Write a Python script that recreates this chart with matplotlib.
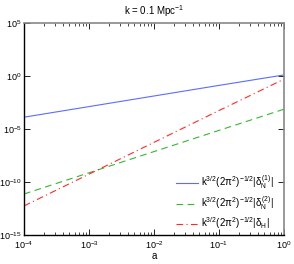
import numpy as np
import matplotlib
matplotlib.use('Agg')
import matplotlib.pyplot as plt
from matplotlib.ticker import LogLocator, NullFormatter, NullLocator

plt.rcParams['font.family'] = ['Liberation Sans', 'DejaVu Sans']
plt.rcParams['mathtext.fontset'] = 'custom'
plt.rcParams['mathtext.rm'] = 'Liberation Sans'
plt.rcParams['mathtext.it'] = 'Liberation Sans'

# scale factor and amplitudes
a = [1e-4, 1e-3, 1e-2, 1e-1, 1.0]
delta_n1 = [1.3e-4, 1.3e-3, 1.3e-2, 1.3e-1, 1.26]
delta_n2 = [7.4e-12, 7.4e-10, 7.4e-8, 7.4e-6, 7.4e-4]
delta_h = [5.5e-13, 5.5e-10, 5.5e-7, 5.5e-4, 0.5]

pre = r'k$^{3/2}$(2$\pi^2$)$^{-1/2}$'
labels = [pre + r'|$\delta_N^{(1)}$|', pre + r'|$\delta_N^{(2)}$|', pre + r'|$\delta_H$|']

fig = plt.figure(figsize=(2.94, 2.64), dpi=100)
ax = fig.add_axes([24/294, 29/264, 260/294, 212/264])

ax.plot(a, delta_n1, color='#5b6cff', lw=0.8, label=labels[0])
ax.plot(a, delta_n2, color='#33b833', lw=0.8, ls=(0, (6, 4)), label=labels[1])
ax.plot(a, delta_h, color='#ff2a2a', lw=0.8, ls=(0, (6, 3, 1, 3)), label=labels[2])

ax.set_xscale('log')
ax.set_yscale('log')
ax.set_xlim(1e-4, 1)
ax.set_ylim(1e-15, 1e5)
ax.set_yticks([1e-15, 1e-10, 1e-5, 1e0, 1e5])
ax.yaxis.set_minor_locator(NullLocator())
ax.xaxis.set_minor_locator(LogLocator(base=10, subs=np.arange(2, 10), numticks=20))
ax.xaxis.set_minor_formatter(NullFormatter())
ax.tick_params(which='both', direction='in', top=True, right=True, labelsize=6.5, pad=3)
ax.tick_params(axis='y', pad=1.5)
ax.tick_params(which='major', length=4, width=0.6)
ax.tick_params(which='minor', length=2, width=0.5)

for s in ['left', 'bottom']:
    ax.spines[s].set_color('black')
    ax.spines[s].set_linewidth(1.0)
for s in ['top', 'right']:
    ax.spines[s].set_color('#888888')
    ax.spines[s].set_linewidth(1.2)

ax.set_title(r'k = 0.1 Mpc$^{-1}$', fontsize=7, pad=6)
ax.set_xlabel('a', fontsize=7, labelpad=0)

ax.legend(loc='lower right', bbox_to_anchor=(1 - 6/260, 0), borderaxespad=0,
          frameon=False, fontsize=7, handlelength=2.3, labelspacing=0.33,
          handletextpad=0.3)

fig.savefig('out.png', dpi=100)
